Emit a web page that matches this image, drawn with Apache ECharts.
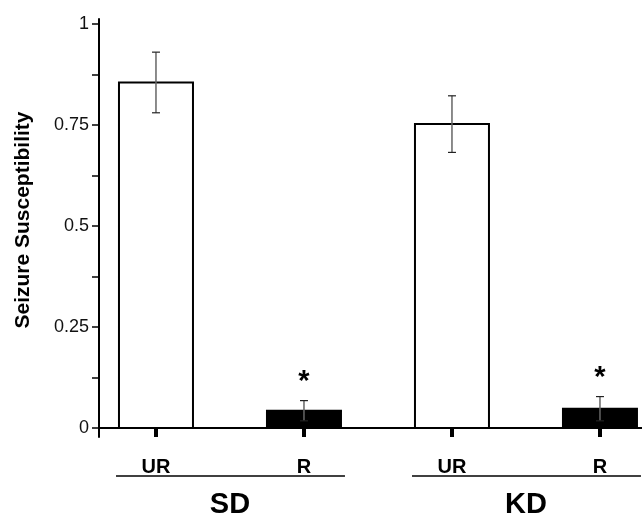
<!DOCTYPE html>
<html>
<head>
<meta charset="utf-8">
<script src="https://cdn.jsdelivr.net/npm/echarts@6/dist/echarts.min.js"></script>
<style>
  html, body { margin: 0; padding: 0; background: #fff; }
  #chart { width: 642px; height: 518px; }
</style>
</head>
<body>
<div id="chart"></div>
<script>
// 柱子的类别和数值
const categories = ['UR', 'R', 'UR', 'R'];
const means = [0.855, 0.043, 0.752, 0.048];
const errors = [0.075, 0.025, 0.07, 0.03];
const fills = ['#fff', '#000', '#fff', '#000'];
const stars = ['', '*', '', '*'];
// 分组
const groups = ['SD', 'KD'];
const groupStart = [0, 2];
const groupEnd = [1, 3];
// y轴刻度
const yTicks = [0, 0.125, 0.25, 0.375, 0.5, 0.625, 0.75, 0.875, 1];
const yLabels = [0, 0.25, 0.5, 0.75, 1];

const font = "'Liberation Sans', Arial, Helvetica, sans-serif";
const chart = echarts.init(document.getElementById('chart'));

const option = {
    animation: false,
    grid: { left: 99, right: 0, top: 19, bottom: 81 },
    xAxis: {
        type: 'value',
        min: -0.385,
        max: 3.284,
        splitLine: { show: false },
        axisLine: { onZero: true, lineStyle: { color: '#000', width: 2 } },
        axisTick: {
            customValues: [0, 1, 2, 3],
            length: 9,
            lineStyle: { color: '#000', width: 4 }
        },
        axisLabel: {
            customValues: [0, 1, 2, 3],
            margin: 20,
            fontSize: 20,
            fontWeight: 'bold',
            fontFamily: font,
            color: '#000',
            formatter: (v) => categories[Math.round(v)]
        }
    },
    yAxis: {
        type: 'value',
        min: -0.022,
        max: 1.012,
        name: 'Seizure Susceptibility',
        nameLocation: 'middle',
        nameGap: 65,
        nameTextStyle: {
            fontSize: 21,
            fontWeight: 'bold',
            fontFamily: font,
            color: '#000',
            padding: [0, 0, 0, 16]
        },
        splitLine: { show: false },
        axisLine: { onZero: false, lineStyle: { color: '#000', width: 2 } },
        axisTick: {
            customValues: yTicks,
            length: 7,
            lineStyle: { color: '#000', width: 1.5 }
        },
        axisLabel: {
            customValues: yLabels,
            margin: 10,
            fontSize: 18,
            fontFamily: font,
            color: '#111',
            formatter: (v) => String(v)
        }
    },
    series: [
        {
            // 柱子
            type: 'custom',
            clip: false,
            data: means.map((m, i) => [i, m]),
            encode: { x: 0, y: 1 },
            renderItem(params, api) {
                const i = params.dataIndex;
                const top = api.coord([i - 0.25, api.value(1)]);
                const base = api.coord([i + 0.25, 0]);
                return {
                    type: 'rect',
                    shape: { x: top[0], y: top[1], width: base[0] - top[0], height: base[1] - top[1] },
                    style: { fill: fills[i], stroke: '#000', lineWidth: 2 }
                };
            }
        },
        {
            // 误差线和星号
            type: 'custom',
            clip: false,
            data: means.map((m, i) => [i, m, errors[i]]),
            encode: { x: 0, y: 1 },
            renderItem(params, api) {
                const i = params.dataIndex;
                const m = api.value(1), e = api.value(2);
                const hi = api.coord([i, m + e]);
                const lo = api.coord([i, m - e]);
                const x = hi[0];
                const children = [
                    { type: 'line', shape: { x1: x, y1: hi[1], x2: x, y2: lo[1] }, style: { stroke: '#666', lineWidth: 1.5 } },
                    { type: 'line', shape: { x1: x - 4, y1: hi[1], x2: x + 4, y2: hi[1] }, style: { stroke: '#222', lineWidth: 1.2 } },
                    { type: 'line', shape: { x1: x - 4, y1: lo[1], x2: x + 4, y2: lo[1] }, style: { stroke: '#222', lineWidth: 1.2 } }
                ];
                if (stars[i]) {
                    children.push({
                        type: 'text',
                        style: {
                            text: stars[i], x: x, y: hi[1] - 19,
                            align: 'center', verticalAlign: 'middle',
                            fontSize: 29, fontWeight: 'bold', fontFamily: font, fill: '#000'
                        }
                    });
                }
                return { type: 'group', children };
            }
        },
        {
            // 分组线和分组名
            type: 'custom',
            clip: false,
            data: groups.map((g, i) => [groupStart[i], groupEnd[i]]),
            encode: { x: [0, 1] },
            renderItem(params, api) {
                const i = params.dataIndex;
                const a = api.coord([groupStart[i] - 0.27, 0]);
                const b = api.coord([groupEnd[i] + 0.277, 0]);
                const c = api.coord([(groupStart[i] + groupEnd[i]) / 2, 0]);
                return {
                    type: 'group',
                    children: [
                        { type: 'line', shape: { x1: a[0], y1: a[1] + 48, x2: b[0], y2: b[1] + 48 }, style: { stroke: '#000', lineWidth: 1.5 } },
                        {
                            type: 'text',
                            style: {
                                text: groups[i], x: c[0], y: c[1] + 77,
                                align: 'center', verticalAlign: 'middle',
                                fontSize: 29, fontWeight: 'bold', fontFamily: font, fill: '#000'
                            }
                        }
                    ]
                };
            }
        }
    ]
};
chart.setOption(option);
</script>
</body>
</html>
